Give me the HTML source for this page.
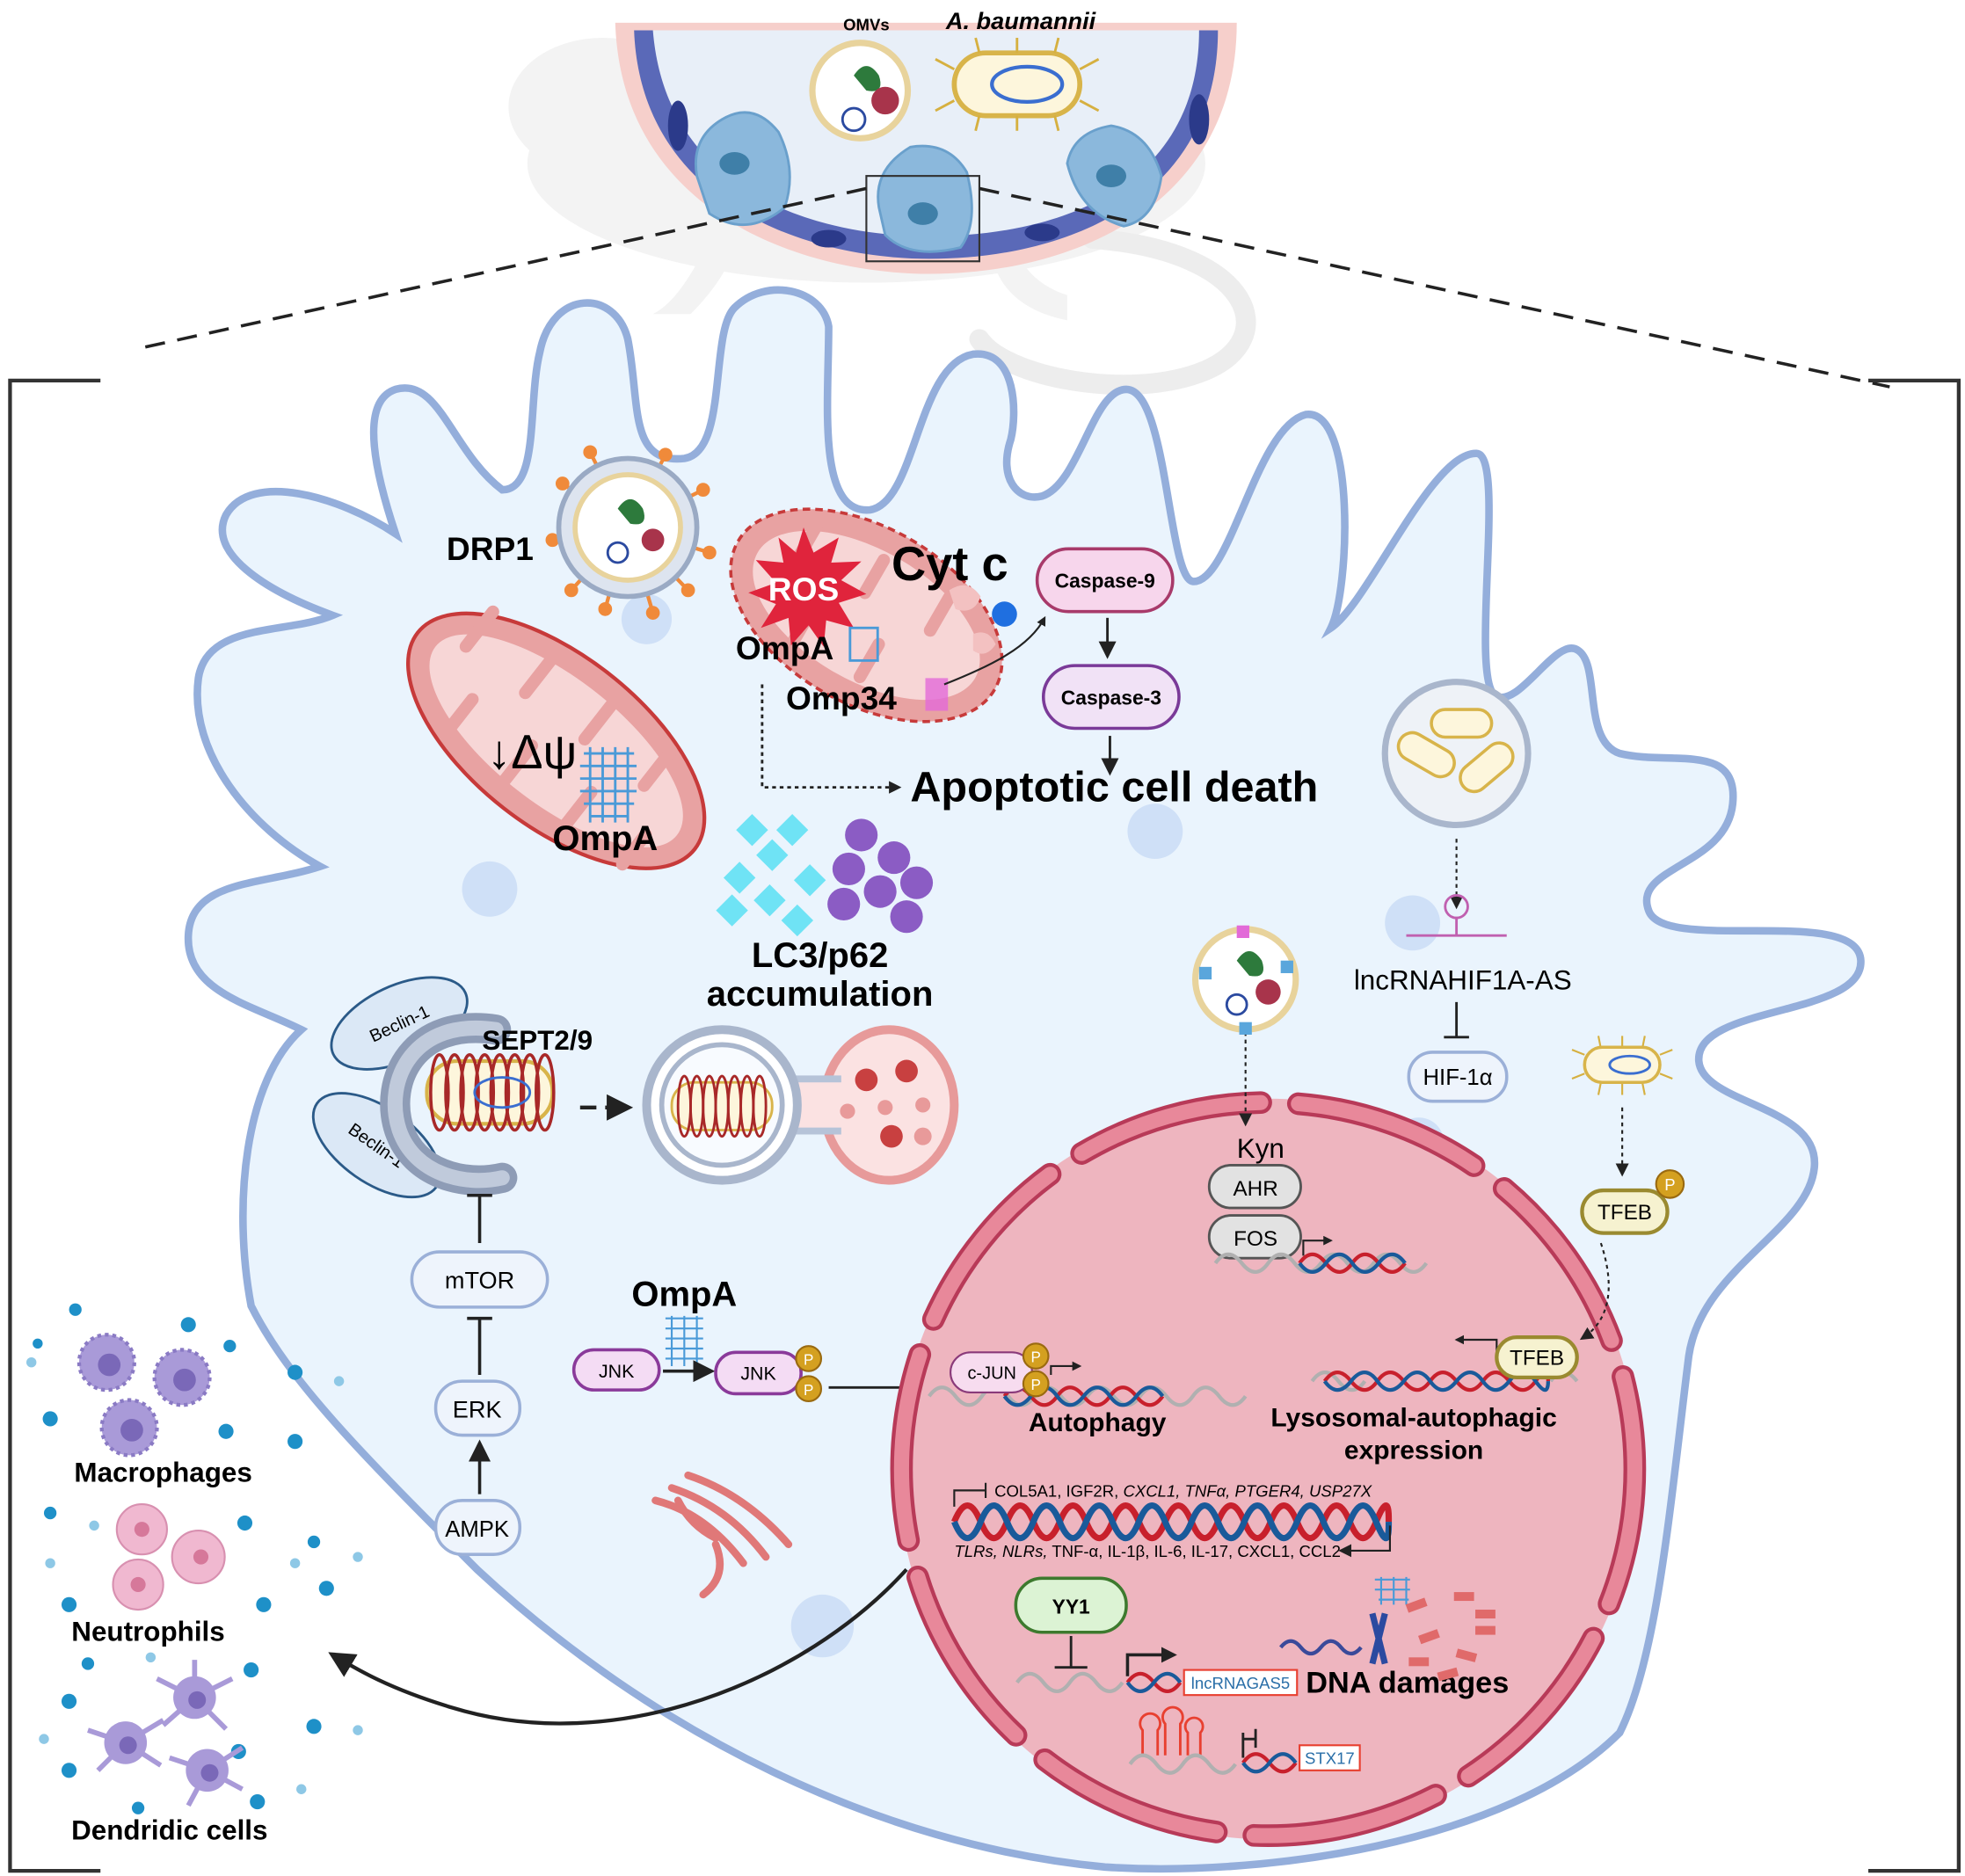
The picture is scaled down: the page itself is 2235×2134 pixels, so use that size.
<!DOCTYPE html>
<html><head><meta charset="utf-8"><style>
html,body{margin:0;padding:0;background:#fff}
svg{display:block}
text{font-family:"Liberation Sans",sans-serif}
.b{font-weight:bold}
</style></head><body>
<svg width="2235" height="2134" viewBox="0 0 1565 1494" xmlns="http://www.w3.org/2000/svg">
<defs>
<marker id="ah" viewBox="0 0 10 10" refX="8" refY="5" markerWidth="5" markerHeight="5" orient="auto"><path d="M0 0L10 5L0 10z" fill="#222"/></marker>
<marker id="ahs" viewBox="0 0 10 10" refX="8" refY="5" markerWidth="7" markerHeight="7" orient="auto"><path d="M0 0L10 5L0 10z" fill="#222"/></marker>
</defs>
<!-- mouse silhouette -->
<g fill="#f3f3f3">
<ellipse cx="690" cy="130" rx="270" ry="95"/>
<ellipse cx="480" cy="85" rx="75" ry="55"/>
<ellipse cx="560" cy="60" rx="35" ry="40"/>
<path d="M560 200 q-20 40 -40 50 l30 0 q20 -20 30 -40z"/>
<path d="M790 205 q10 40 60 50 l0 -20 q-30 -10 -40 -35z"/>
</g>
<path d="M870 190 C1000 200 1020 270 960 295 C900 320 800 300 780 270" fill="none" stroke="#ededed" stroke-width="16" stroke-linecap="round"/>
<!-- bowl -->
<path d="M490 18 C495 170 640 218 740 218 C860 218 985 160 985 18 Z" fill="#f6cfcb"/>
<path d="M505 24 C510 160 640 206 740 206 C855 206 970 155 970 24 Z" fill="#5a69b8"/>
<path d="M520 24 C530 150 645 188 740 188 C850 188 955 145 955 24 Z" fill="#e8eff8"/>
<ellipse cx="540" cy="100" rx="8" ry="20" fill="#2b3a8a"/><ellipse cx="955" cy="95" rx="8" ry="20" fill="#2b3a8a"/>
<ellipse cx="660" cy="190" rx="14" ry="7" fill="#2b3a8a"/><ellipse cx="830" cy="185" rx="14" ry="7" fill="#2b3a8a"/>
<g fill="#8bb8dc" stroke="#6aa0cc" stroke-width="2">
<path d="M555 140 q-5 -30 20 -45 q25 -15 45 10 q15 30 5 60 q-30 25 -60 5z"/>
<path d="M700 165 q-5 -30 25 -48 q30 -5 45 20 q10 40 -5 60 q-40 10 -60 -10z"/>
<path d="M850 130 q5 -25 35 -30 q30 5 40 40 q-5 35 -30 40 q-35 -10 -45 -50z"/>
</g>
<ellipse cx="585" cy="130" rx="12" ry="9" fill="#3f7fa8"/><ellipse cx="735" cy="170" rx="12" ry="9" fill="#3f7fa8"/><ellipse cx="885" cy="140" rx="12" ry="9" fill="#3f7fa8"/>
<circle cx="685" cy="72" r="38" fill="#fff" stroke="#e8d39c" stroke-width="5"/>
<path d="M680 60 q10 -15 20 0 q5 15 -10 12z" fill="#2d7a3c"/><circle cx="705" cy="80" r="11" fill="#a8344b"/><circle cx="680" cy="95" r="9" fill="none" stroke="#2b4aa0" stroke-width="2"/>
<rect x="760" y="42" width="100" height="50" rx="25" fill="#fdf6dc" stroke="#d8b44a" stroke-width="4"/>
<ellipse cx="818" cy="67" rx="28" ry="14" fill="none" stroke="#3a6ed0" stroke-width="3"/>
<g stroke="#d6b040" stroke-width="2"><path d="M760 55 l-15 -8 M760 80 l-15 8 M860 55 l15 -8 M860 80 l15 8 M780 42 l-3 -12 M810 42 l0 -12 M840 42 l3 -12 M780 92 l-3 12 M810 92 l0 12 M840 92 l3 12"/></g>
<text x="690" y="24" font-size="13" class="b" text-anchor="middle">OMVs</text>
<text x="813" y="23" font-size="19" class="b" font-style="italic" text-anchor="middle">A. baumannii</text>
<rect x="690" y="140" width="90" height="68" fill="none" stroke="#333" stroke-width="1.5"/>
<path d="M690 150 L108 278" stroke="#222" stroke-width="2.5" stroke-dasharray="16 10" fill="none"/>
<path d="M780 150 L1505 308" stroke="#222" stroke-width="2.5" stroke-dasharray="16 10" fill="none"/>
<!-- brackets -->
<path d="M80 303 H8 V1490 H80" fill="none" stroke="#333" stroke-width="3"/>
<path d="M1488 303 H1560 V1490 H1488" fill="none" stroke="#333" stroke-width="3"/>
<!-- cell -->
<path d="M880 1487 C700 1470 520 1380 380 1250 C290 1160 230 1100 200 1040 C185 960 195 860 240 820 C200 800 148 790 150 745 C152 700 210 705 255 690 C200 660 150 600 158 540 C165 495 230 505 265 490 C210 470 165 440 180 410 C200 375 270 395 315 425 C300 380 285 320 315 310 C350 300 360 360 400 390 C430 390 420 320 430 280 C440 230 490 230 500 270 C510 320 500 370 545 365 C580 360 565 265 585 245 C610 220 655 230 660 260 C660 320 650 410 693 406 C730 400 730 290 775 282 C810 278 810 330 805 350 C795 380 810 400 830 395 C860 385 870 310 897 310 C930 310 930 460 950 463 C980 465 1000 340 1040 330 C1080 325 1075 470 1060 500 C1090 480 1140 360 1176 361 C1200 362 1170 540 1191 554 C1210 565 1240 505 1257 518 C1275 530 1260 590 1290 600 C1330 610 1385 590 1380 640 C1375 690 1300 690 1313 725 C1325 760 1480 720 1482 765 C1484 810 1350 800 1353 845 C1356 880 1450 880 1445 930 C1440 980 1355 1010 1345 1080 C1330 1200 1320 1320 1290 1380 C1200 1470 1000 1495 880 1487 Z" fill="#eaf4fd" stroke="#94aedb" stroke-width="6"/>
<g fill="#cfe0f7"><circle cx="515" cy="493" r="20"/><circle cx="390" cy="708" r="22"/><circle cx="920" cy="662" r="22"/><circle cx="1125" cy="735" r="22"/><circle cx="655" cy="1295" r="25"/><circle cx="1130" cy="910" r="20"/><circle cx="515" cy="610" r="20"/></g>
<!-- DRP1 OMV -->
<g stroke="#f08a3a" stroke-width="3" fill="#f08a3a">
<path d="M500 420 L470 360 M500 420 L530 362 M500 420 L448 385 M500 420 L560 390 M500 420 L440 430 M500 420 L565 440 M500 420 L455 470 M500 420 L548 470 M500 420 L482 485 M500 420 L520 488"/>
<circle cx="470" cy="360" r="4"/><circle cx="530" cy="362" r="4"/><circle cx="448" cy="385" r="4"/><circle cx="560" cy="390" r="4"/><circle cx="440" cy="430" r="4"/><circle cx="565" cy="440" r="4"/><circle cx="455" cy="470" r="4"/><circle cx="548" cy="470" r="4"/><circle cx="482" cy="485" r="4"/><circle cx="520" cy="488" r="4"/>
</g>
<circle cx="500" cy="420" r="55" fill="#dde4ef" stroke="#9aaac4" stroke-width="4"/>
<circle cx="500" cy="420" r="42" fill="#fff" stroke="#e8d39c" stroke-width="4"/>
<path d="M492 405 q10 -15 20 0 q5 15 -10 12z" fill="#2d7a3c"/><circle cx="520" cy="430" r="9" fill="#a8344b"/><circle cx="492" cy="440" r="8" fill="none" stroke="#2b4aa0" stroke-width="2"/>
<text x="425" y="446" font-size="26" class="b" text-anchor="end">DRP1</text>
<!-- mito 1 -->
<g transform="rotate(38 443 590)">
<ellipse cx="443" cy="590" rx="140" ry="68" fill="#e8a2a2" stroke="#c73a3a" stroke-width="3"/>
<ellipse cx="443" cy="590" rx="122" ry="50" fill="#f7d6d6"/>
<g stroke="#e8a2a2" stroke-width="10" stroke-linecap="round"><path d="M340 540 v35 M370 640 v-35 M400 540 v35 M430 640 v-35 M460 540 v35 M490 640 v-35 M520 540 v35 M545 635 v-30"/></g>
</g>
<text x="388" y="612" font-size="38" font-family="Liberation Serif">↓Δψ</text>
<g stroke="#4a9ad8" stroke-width="2" fill="none"><path d="M465 600 l40 0 M462 610 l45 0 M462 620 l45 0 M462 630 l45 0 M465 640 l40 0 M470 650 l30 0 M470 595 v60 M480 595 v60 M490 595 v60 M500 595 v60"/></g>
<text x="482" y="677" font-size="28" class="b" text-anchor="middle">OmpA</text>
<!-- mito 2 -->
<g transform="rotate(30 690 490)">
<ellipse cx="690" cy="490" rx="118" ry="70" fill="#e8a2a2" stroke="#c73a3a" stroke-width="2.5" stroke-dasharray="6 4"/>
<ellipse cx="690" cy="490" rx="100" ry="52" fill="#f7d6d6"/>
<g stroke="#e8a2a2" stroke-width="10" stroke-linecap="round"><path d="M620 445 v30 M650 535 v-30 M680 445 v30 M710 535 v-30 M740 445 v30"/></g>
</g>
<path d="M756 470 q15 -10 25 5 q-5 15 -20 10z M775 505 q12 -5 18 8 q-8 12 -18 5z" fill="#f3c1c1"/>
<polygon points="640,420 648,440 668,428 662,448 686,447 670,462 690,473 668,480 680,500 658,494 656,515 644,498 630,514 628,492 606,500 618,481 596,472 618,464 602,446 624,448 620,428 634,440" fill="#e0243c"/>
<text x="640" y="478" font-size="26" class="b" fill="#fff" text-anchor="middle">ROS</text>
<text x="586" y="525" font-size="26" class="b">OmpA</text>
<rect x="677" y="500" width="22" height="26" fill="none" stroke="#4a9ad8" stroke-width="2"/>
<text x="626" y="565" font-size="26" class="b">Omp34</text>
<rect x="737" y="540" width="18" height="26" fill="#e26ad8" opacity="0.8"/>
<circle cx="800" cy="489" r="10" fill="#1f6fe0"/>
<text x="710" y="462" font-size="38" class="b">Cyt c</text>
<path d="M752 545 C790 530 820 515 832 492" fill="none" stroke="#222" stroke-width="1.5" marker-end="url(#ah)"/>
<path d="M607 545 V627 H716" fill="none" stroke="#222" stroke-width="2" stroke-dasharray="3 3" marker-end="url(#ah)"/>
<!-- caspases -->
<rect x="826" y="437" width="108" height="50" rx="25" fill="#f7d6ec" stroke="#a83a6a" stroke-width="2.5"/>
<text x="880" y="468" font-size="16" class="b" text-anchor="middle">Caspase-9</text>
<rect x="831" y="530" width="108" height="50" rx="25" fill="#f1e2f6" stroke="#7a3a98" stroke-width="2.5"/>
<text x="885" y="561" font-size="16" class="b" text-anchor="middle">Caspase-3</text>
<path d="M882 492 V522" stroke="#222" stroke-width="2" marker-end="url(#ahs)"/>
<path d="M884 586 V615" stroke="#222" stroke-width="2" marker-end="url(#ahs)"/>
<text x="725" y="638" font-size="34" class="b">Apoptotic cell death</text>
<!-- LC3/p62 -->
<g fill="#6fe3f5"><rect x="590" y="652" width="18" height="18" transform="rotate(45 599 661)"/><rect x="622" y="652" width="18" height="18" transform="rotate(45 631 661)"/><rect x="606" y="672" width="18" height="18" transform="rotate(45 615 681)"/><rect x="580" y="690" width="18" height="18" transform="rotate(45 589 699)"/><rect x="636" y="692" width="18" height="18" transform="rotate(45 645 701)"/><rect x="604" y="708" width="18" height="18" transform="rotate(45 613 717)"/><rect x="574" y="716" width="18" height="18" transform="rotate(45 583 725)"/><rect x="626" y="724" width="18" height="18" transform="rotate(45 635 733)"/></g>
<g fill="#8b5cc4"><circle cx="686" cy="665" r="13"/><circle cx="712" cy="683" r="13"/><circle cx="676" cy="692" r="13"/><circle cx="730" cy="703" r="13"/><circle cx="701" cy="710" r="13"/><circle cx="672" cy="720" r="13"/><circle cx="722" cy="730" r="13"/></g>
<text x="653" y="770" font-size="28" class="b" text-anchor="middle">LC3/p62</text>
<text x="653" y="801" font-size="28" class="b" text-anchor="middle">accumulation</text>
<!-- phagophore -->
<ellipse cx="318" cy="815" rx="58" ry="30" transform="rotate(-25 318 815)" fill="#dbe8f6" stroke="#2b5a88" stroke-width="2"/>
<text x="318" y="820" font-size="14" text-anchor="middle" transform="rotate(-25 318 815)">Beclin-1</text>
<ellipse cx="300" cy="912" rx="58" ry="30" transform="rotate(35 300 912)" fill="#dbe8f6" stroke="#2b5a88" stroke-width="2"/>
<text x="300" y="917" font-size="14" text-anchor="middle" transform="rotate(35 300 912)">Beclin-1</text>
<path d="M395 820 C330 810 305 860 318 900 C330 935 370 945 400 938" fill="none" stroke="#8e9cb6" stroke-width="24" stroke-linecap="round"/>
<path d="M395 820 C330 810 305 860 318 900 C330 935 370 945 400 938" fill="none" stroke="#c0cadb" stroke-width="12" stroke-linecap="round"/>
<rect x="340" y="845" width="100" height="50" rx="24" fill="#fdf6dc" stroke="#d8b44a" stroke-width="3"/>
<g fill="none" stroke="#a82828" stroke-width="2.5"><ellipse cx="350" cy="870" rx="7" ry="30"/><ellipse cx="362" cy="870" rx="7" ry="30"/><ellipse cx="374" cy="870" rx="7" ry="30"/><ellipse cx="386" cy="870" rx="7" ry="30"/><ellipse cx="398" cy="870" rx="7" ry="30"/><ellipse cx="410" cy="870" rx="7" ry="30"/><ellipse cx="422" cy="870" rx="7" ry="30"/><ellipse cx="434" cy="870" rx="7" ry="30"/></g>
<ellipse cx="400" cy="870" rx="22" ry="12" fill="none" stroke="#3a6ed0" stroke-width="2"/>
<text x="384" y="836" font-size="22" class="b">SEPT2/9</text>
<path d="M462 882 H475 M482 882 H500" stroke="#222" stroke-width="3" marker-end="url(#ahs)"/>
<!-- autolysosome -->
<ellipse cx="708" cy="880" rx="52" ry="60" fill="#fbe2e2" stroke="#e79a9a" stroke-width="7"/>
<path d="M620 860 H670 M620 900 H670" stroke="#b6c3d8" stroke-width="7"/>
<rect x="620" y="862" width="60" height="36" fill="#fbe2e2"/>
<circle cx="575" cy="880" r="60" fill="#fff" stroke="#a9b6cc" stroke-width="7"/>
<circle cx="575" cy="880" r="48" fill="#f8fbff" stroke="#a9b6cc" stroke-width="4"/>
<rect x="535" y="862" width="80" height="38" rx="18" fill="#fdf6dc" stroke="#d8b44a" stroke-width="2"/>
<g fill="none" stroke="#a82828" stroke-width="2"><ellipse cx="545" cy="881" rx="5" ry="24"/><ellipse cx="555" cy="881" rx="5" ry="24"/><ellipse cx="565" cy="881" rx="5" ry="24"/><ellipse cx="575" cy="881" rx="5" ry="24"/><ellipse cx="585" cy="881" rx="5" ry="24"/><ellipse cx="595" cy="881" rx="5" ry="24"/><ellipse cx="605" cy="881" rx="5" ry="24"/></g>
<g fill="#c84040"><circle cx="690" cy="860" r="9"/><circle cx="722" cy="853" r="9"/><circle cx="710" cy="905" r="9"/></g>
<g fill="#e89a9a"><circle cx="675" cy="885" r="6"/><circle cx="705" cy="882" r="6"/><circle cx="735" cy="880" r="6"/><circle cx="735" cy="905" r="7"/></g>
<!-- mTOR chain -->
<path d="M382 990 V952 M372 952 H392" stroke="#222" stroke-width="2.5"/>
<rect x="328" y="997" width="108" height="44" rx="22" fill="#eef4fc" stroke="#9bb0d8" stroke-width="2.5"/>
<text x="382" y="1026" font-size="19" text-anchor="middle">mTOR</text>
<path d="M382 1095 V1050 M372 1050 H392" stroke="#222" stroke-width="2.5"/>
<rect x="347" y="1100" width="67" height="43" rx="21" fill="#eef4fc" stroke="#9bb0d8" stroke-width="2.5"/>
<text x="380" y="1129" font-size="19" text-anchor="middle">ERK</text>
<path d="M382 1190 V1150" stroke="#222" stroke-width="2.5" marker-end="url(#ahs)"/>
<rect x="347" y="1195" width="67" height="43" rx="21" fill="#eef4fc" stroke="#9bb0d8" stroke-width="2.5"/>
<text x="380" y="1224" font-size="18" text-anchor="middle">AMPK</text>
<!-- JNK -->
<text x="545" y="1040" font-size="28" class="b" text-anchor="middle">OmpA</text>
<g stroke="#4a9ad8" stroke-width="1.5" fill="none"><path d="M530 1050 h30 M530 1058 h30 M530 1066 h30 M530 1074 h30 M530 1082 h30 M535 1048 v40 M545 1048 v40 M555 1048 v40"/></g>
<rect x="457" y="1075" width="68" height="32" rx="16" fill="#f4dcf4" stroke="#8a3a9a" stroke-width="2.5"/>
<text x="491" y="1097" font-size="15" text-anchor="middle">JNK</text>
<path d="M528 1092 H566" stroke="#222" stroke-width="2.5" marker-end="url(#ahs)"/>
<rect x="570" y="1077" width="68" height="33" rx="16" fill="#f4dcf4" stroke="#8a3a9a" stroke-width="2.5"/>
<text x="604" y="1099" font-size="15" text-anchor="middle">JNK</text>
<circle cx="644" cy="1082" r="10" fill="#d4a020" stroke="#9a6a10" stroke-width="1.5"/><text x="644" y="1087" font-size="12" text-anchor="middle" fill="#fff">P</text>
<circle cx="644" cy="1106" r="10" fill="#d4a020" stroke="#9a6a10" stroke-width="1.5"/><text x="644" y="1111" font-size="12" text-anchor="middle" fill="#fff">P</text>
<path d="M660 1105 H737" stroke="#222" stroke-width="2" marker-end="url(#ahs)"/>
<!-- golgi -->
<g fill="none" stroke="#e07878" stroke-width="6" stroke-linecap="round"><path d="M522 1195 q40 10 70 50"/><path d="M535 1185 q45 15 75 55"/><path d="M548 1175 q45 15 80 55"/><path d="M560 1270 q20 -15 10 -40"/><path d="M540 1195 q10 20 30 30"/></g>
<!-- immune cells -->
<g fill="#1e90c8"><circle cx="60" cy="1043" r="5"/><circle cx="150" cy="1055" r="6"/><circle cx="183" cy="1072" r="5"/><circle cx="40" cy="1130" r="6"/><circle cx="235" cy="1093" r="6"/><circle cx="180" cy="1140" r="6"/><circle cx="235" cy="1148" r="6"/><circle cx="40" cy="1205" r="5"/><circle cx="195" cy="1213" r="6"/><circle cx="250" cy="1228" r="5"/><circle cx="55" cy="1278" r="6"/><circle cx="210" cy="1278" r="6"/><circle cx="260" cy="1265" r="6"/><circle cx="70" cy="1325" r="5"/><circle cx="55" cy="1355" r="6"/><circle cx="200" cy="1330" r="6"/><circle cx="250" cy="1375" r="6"/><circle cx="190" cy="1395" r="6"/><circle cx="55" cy="1410" r="6"/><circle cx="205" cy="1435" r="6"/><circle cx="110" cy="1440" r="5"/><circle cx="30" cy="1070" r="4"/></g>
<g fill="#8ec8e6"><circle cx="25" cy="1085" r="4"/><circle cx="110" cy="1150" r="4"/><circle cx="270" cy="1100" r="4"/><circle cx="75" cy="1215" r="4"/><circle cx="235" cy="1245" r="4"/><circle cx="40" cy="1245" r="4"/><circle cx="285" cy="1240" r="4"/><circle cx="120" cy="1320" r="4"/><circle cx="285" cy="1378" r="4"/><circle cx="35" cy="1385" r="4"/><circle cx="240" cy="1425" r="4"/></g>
<g fill="#a99ad8" stroke="#8a7ac4" stroke-width="3" stroke-dasharray="3 3"><circle cx="85" cy="1085" r="22"/><circle cx="145" cy="1097" r="22"/><circle cx="103" cy="1137" r="22"/></g>
<g fill="#7a68b8"><circle cx="87" cy="1087" r="9"/><circle cx="147" cy="1099" r="9"/><circle cx="105" cy="1139" r="9"/></g>
<g fill="#f0b8d0" stroke="#d890b0" stroke-width="1.5"><circle cx="113" cy="1218" r="20"/><circle cx="158" cy="1240" r="21"/><circle cx="110" cy="1262" r="20"/></g>
<g fill="#d6789a"><circle cx="113" cy="1218" r="6"/><circle cx="160" cy="1240" r="6"/><circle cx="110" cy="1262" r="6"/></g>
<g stroke="#a99ad8" stroke-width="4"><path d="M155 1352 l-30 -15 m30 15 l30 -15 m-30 15 l-25 22 m25 -22 l25 25 m-25 -25 l0 -30 M100 1388 l-30 -10 m30 10 l30 -18 m-30 18 l-22 22 m22 -22 l28 18 M165 1410 l-30 -10 m30 10 l28 -18 m-28 18 l-15 28 m15 -28 l28 15"/></g>
<g fill="#a99ad8"><circle cx="155" cy="1352" r="17"/><circle cx="100" cy="1388" r="17"/><circle cx="165" cy="1410" r="17"/></g>
<g fill="#7a68b8"><circle cx="157" cy="1354" r="7"/><circle cx="102" cy="1390" r="7"/><circle cx="167" cy="1412" r="7"/></g>
<text x="130" y="1180" font-size="22" class="b" text-anchor="middle">Macrophages</text>
<text x="118" y="1307" font-size="22" class="b" text-anchor="middle">Neutrophils</text>
<text x="135" y="1465" font-size="22" class="b" text-anchor="middle">Dendridic cells</text>
<!-- nucleus -->
<circle cx="1010" cy="1170" r="295" fill="#eeb5bf"/>
<circle cx="1010" cy="1170" r="292" fill="none" stroke="#b83a58" stroke-width="18" stroke-dasharray="150 30" stroke-dashoffset="40" stroke-linecap="round"/>
<circle cx="1010" cy="1170" r="292" fill="none" stroke="#e8889a" stroke-width="12" stroke-dasharray="150 30" stroke-dashoffset="40" stroke-linecap="round"/>
<!-- curved output arrow -->
<path d="M722 1250 C640 1340 490 1400 360 1360 C310 1345 285 1330 265 1318" fill="none" stroke="#222" stroke-width="3" marker-end="url(#ahs)"/>
<!-- Kyn/AHR/FOS -->
<text x="1004" y="922" font-size="22" text-anchor="middle">Kyn</text>
<rect x="963" y="928" width="73" height="34" rx="17" fill="#e2e2e2" stroke="#555" stroke-width="2"/>
<text x="1000" y="952" font-size="17" text-anchor="middle">AHR</text>
<rect x="963" y="968" width="73" height="34" rx="17" fill="#e2e2e2" stroke="#555" stroke-width="2"/>
<text x="1000" y="992" font-size="17" text-anchor="middle">FOS</text>
<path d="M1038 1000 V988 H1060" fill="none" stroke="#222" stroke-width="1.5" marker-end="url(#ah)"/>
<path d="M968 1006 q10 -14 21 0 t21 0 t21 0 t21 0 t21 0 t21 0 t21 0 t21 0" fill="none" stroke="#b0b0b0" stroke-width="3"/>
<path d="M1035 1006 q10 -14 21 0 t21 0 t21 0 t21 0" fill="none" stroke="#c8202c" stroke-width="3"/>
<path d="M1035 1006 q10 14 21 0 t21 0 t21 0 t21 0" fill="none" stroke="#1a5a9a" stroke-width="3"/>
<path d="M992 822 V895" stroke="#222" stroke-width="1.5" stroke-dasharray="3 3" marker-end="url(#ahs)"/>
<!-- c-JUN -->
<path d="M740 1112 q10 -14 21 0 t21 0 t21 0 t21 0 t21 0 t21 0 t21 0 t21 0 t21 0 t21 0 t21 0 t21 0" fill="none" stroke="#b0b0b0" stroke-width="3"/>
<path d="M800 1112 q10 -14 21 0 t21 0 t21 0 t21 0 t21 0 t21 0" fill="none" stroke="#c8202c" stroke-width="3"/>
<path d="M800 1112 q10 14 21 0 t21 0 t21 0 t21 0 t21 0 t21 0" fill="none" stroke="#1a5a9a" stroke-width="3"/>
<rect x="757" y="1077" width="65" height="32" rx="16" fill="#f7dcef" stroke="#8a3a7a" stroke-width="1.5"/>
<text x="790" y="1098" font-size="14" text-anchor="middle">c-JUN</text>
<circle cx="825" cy="1080" r="10" fill="#d4a020" stroke="#9a6a10" stroke-width="1.5"/><text x="825" y="1085" font-size="12" text-anchor="middle" fill="#fff">P</text>
<circle cx="825" cy="1102" r="10" fill="#d4a020" stroke="#9a6a10" stroke-width="1.5"/><text x="825" y="1107" font-size="12" text-anchor="middle" fill="#fff">P</text>
<path d="M837 1095 V1088 H860" fill="none" stroke="#222" stroke-width="1.5" marker-end="url(#ah)"/>
<text x="874" y="1140" font-size="21" class="b" text-anchor="middle">Autophagy</text>
<!-- TFEB nucleus -->
<path d="M1045 1100 q10 -14 21 0 t21 0 M1235 1100 q10 -14 21 0" fill="none" stroke="#b0b0b0" stroke-width="3"/>
<path d="M1055 1100 q10 -14 21 0 t21 0 t21 0 t21 0 t21 0 t21 0 t21 0 t21 0 t10 0" fill="none" stroke="#c8202c" stroke-width="3"/>
<path d="M1055 1100 q10 14 21 0 t21 0 t21 0 t21 0 t21 0 t21 0 t21 0 t21 0 t10 0" fill="none" stroke="#1a5a9a" stroke-width="3"/>
<path d="M1192 1085 V1067 H1160" fill="none" stroke="#222" stroke-width="1.5" marker-end="url(#ah)"/>
<rect x="1192" y="1065" width="64" height="32" rx="16" fill="#f6f2d0" stroke="#9a8a30" stroke-width="3"/>
<text x="1224" y="1087" font-size="17" text-anchor="middle">TFEB</text>
<text x="1126" y="1136" font-size="21" class="b" text-anchor="middle">Lysosomal-autophagic</text>
<text x="1126" y="1162" font-size="21" class="b" text-anchor="middle">expression</text>
<!-- gene helix -->
<path d="M760 1200 V1187 H785 M785 1181 V1193" fill="none" stroke="#222" stroke-width="1.5"/>
<text x="792" y="1192" font-size="13">COL5A1, IGF2R, <tspan font-style="italic">CXCL1, TNFα, PTGER4, USP27X</tspan></text>
<path d="M760 1212 q10.5 -26 21 0 t21 0 t21 0 t21 0 t21 0 t21 0 t21 0 t21 0 t21 0 t21 0 t21 0 t21 0 t21 0 t21 0 t21 0 t21 0 t10 0" fill="none" stroke="#c8202c" stroke-width="5"/>
<path d="M760 1212 q10.5 26 21 0 t21 0 t21 0 t21 0 t21 0 t21 0 t21 0 t21 0 t21 0 t21 0 t21 0 t21 0 t21 0 t21 0 t21 0 t21 0 t10 0" fill="none" stroke="#1a5a9a" stroke-width="5"/>
<text x="760" y="1240" font-size="13"><tspan font-style="italic">TLRs, NLRs,</tspan> TNF-α, IL-1β, IL-6, IL-17, CXCL1, CCL2</text>
<path d="M1107 1215 V1235 H1068" fill="none" stroke="#222" stroke-width="1.5" marker-end="url(#ahs)"/>
<!-- YY1 -->
<rect x="809" y="1257" width="88" height="43" rx="21" fill="#dcf3d4" stroke="#3d7a2e" stroke-width="2.5"/>
<text x="853" y="1285" font-size="16" class="b" text-anchor="middle">YY1</text>
<path d="M853 1303 V1328 M840 1328 H866" stroke="#222" stroke-width="2"/>
<path d="M810 1340 q10 -14 21 0 t21 0 t21 0 t21 0" fill="none" stroke="#b0b0b0" stroke-width="3"/>
<path d="M898 1340 q10 -14 21 0 t21 0" fill="none" stroke="#c8202c" stroke-width="3"/>
<path d="M898 1340 q10 14 21 0 t21 0" fill="none" stroke="#1a5a9a" stroke-width="3"/>
<path d="M898 1335 V1318 H935" fill="none" stroke="#222" stroke-width="2.5" marker-end="url(#ah)"/>
<rect x="943" y="1330" width="90" height="20" fill="#fff" stroke="#e84030" stroke-width="1.5"/>
<text x="988" y="1345" font-size="13" fill="#2a6fa8" text-anchor="middle">lncRNAGAS5</text>
<text x="1040" y="1348" font-size="24" class="b">DNA damages</text>
<path d="M1020 1312 q8 -10 16 0 t16 0 t16 0 t16 0" fill="none" stroke="#3a4a9a" stroke-width="3"/>
<path d="M1093 1285 l10 40 M1103 1285 l-10 40" stroke="#2b4aa0" stroke-width="5"/>
<g stroke="#4a9ad8" stroke-width="1.5" fill="none"><path d="M1095 1258 h28 M1095 1266 h28 M1098 1274 h24 M1100 1256 v22 M1110 1256 v22 M1120 1256 v22"/></g>
<g fill="#e06a6a"><rect x="1120" y="1275" width="16" height="7" transform="rotate(-20 1128 1278)"/><rect x="1158" y="1268" width="16" height="7"/><rect x="1130" y="1300" width="16" height="7" transform="rotate(-20 1138 1303)"/><rect x="1175" y="1295" width="16" height="7"/><rect x="1122" y="1320" width="16" height="7"/><rect x="1160" y="1315" width="16" height="7" transform="rotate(15 1168 1318)"/><rect x="1145" y="1330" width="16" height="7" transform="rotate(-15 1153 1333)"/><rect x="1175" y="1282" width="16" height="7"/></g>
<!-- STX17 -->
<g fill="none" stroke="#e84030" stroke-width="2"><path d="M910 1398 v-20 a8 8 0 1 1 12 0 v20"/><path d="M928 1398 v-25 a8 8 0 1 1 12 0 v25"/><path d="M946 1398 v-18 a7 7 0 1 1 10 0 v18"/></g>
<path d="M900 1405 q10 -14 21 0 t21 0 t21 0 t21 0" fill="none" stroke="#b0b0b0" stroke-width="3"/>
<path d="M990 1400 V1380 M990 1385 H1000 M1000 1377 V1392" fill="none" stroke="#222" stroke-width="2"/>
<path d="M990 1404 q10 -14 21 0 t21 0" fill="none" stroke="#c8202c" stroke-width="3"/>
<path d="M990 1404 q10 14 21 0 t21 0" fill="none" stroke="#1a5a9a" stroke-width="3"/>
<rect x="1035" y="1390" width="48" height="20" fill="#fff" stroke="#e84030" stroke-width="1.5"/>
<text x="1059" y="1405" font-size="13" fill="#2a6fa8" text-anchor="middle">STX17</text>
<!-- right side -->
<circle cx="992" cy="780" r="40" fill="#fff" stroke="#e8d39c" stroke-width="5"/>
<path d="M985 765 q10 -15 20 0 q5 15 -10 12z" fill="#2d7a3c"/><circle cx="1010" cy="790" r="10" fill="#a8344b"/><circle cx="985" cy="800" r="8" fill="none" stroke="#2b4aa0" stroke-width="2"/>
<rect x="955" y="770" width="10" height="10" fill="#5aa6dc"/><rect x="1020" y="765" width="10" height="10" fill="#5aa6dc"/><rect x="987" y="814" width="10" height="10" fill="#5aa6dc"/><rect x="985" y="737" width="10" height="10" fill="#e26ad8"/>
<circle cx="1160" cy="600" r="57" fill="#eef2f7" stroke="#a9b6cc" stroke-width="5"/>
<g fill="#fdf6dc" stroke="#d8b44a" stroke-width="2.5"><rect x="1140" y="565" width="48" height="22" rx="11"/><rect x="1112" y="590" width="48" height="22" rx="11" transform="rotate(30 1136 601)"/><rect x="1160" y="600" width="48" height="22" rx="11" transform="rotate(-40 1184 611)"/></g>
<path d="M1160 668 V722" stroke="#222" stroke-width="1.5" stroke-dasharray="3 3" marker-end="url(#ahs)"/>
<path d="M1120 745 H1200 M1160 745 V730" stroke="#c060b0" stroke-width="2"/>
<circle cx="1160" cy="722" r="9" fill="none" stroke="#c060b0" stroke-width="2"/>
<text x="1165" y="788" font-size="22" text-anchor="middle">lncRNAHIF1A-AS</text>
<path d="M1160 798 V826 M1150 826 H1170" stroke="#222" stroke-width="2"/>
<rect x="1122" y="838" width="78" height="39" rx="19" fill="#eef4fc" stroke="#9bb0d8" stroke-width="2.5"/>
<text x="1161" y="864" font-size="18" text-anchor="middle">HIF-1α</text>
<g stroke="#d6b040" stroke-width="1.5"><path d="M1262 840 l-10 -4 M1262 855 l-10 4 M1322 840 l10 -4 M1322 855 l10 4 M1275 835 l-2 -10 M1292 835 v-10 M1308 835 l2 -10 M1275 862 l-2 10 M1292 862 v10 M1308 862 l2 10"/></g>
<rect x="1262" y="834" width="60" height="28" rx="14" fill="#fdf6dc" stroke="#d8b44a" stroke-width="2.5"/>
<ellipse cx="1298" cy="848" rx="16" ry="7" fill="none" stroke="#3a6ed0" stroke-width="2"/>
<path d="M1292 882 V935" stroke="#222" stroke-width="1.5" stroke-dasharray="3 3" marker-end="url(#ahs)"/>
<rect x="1260" y="948" width="68" height="34" rx="17" fill="#f6f2d0" stroke="#9a8a30" stroke-width="3"/>
<text x="1294" y="971" font-size="17" text-anchor="middle">TFEB</text>
<circle cx="1330" cy="943" r="11" fill="#d4a020" stroke="#9a6a10" stroke-width="1.5"/><text x="1330" y="948" font-size="13" text-anchor="middle" fill="#fff">P</text>
<path d="M1275 990 C1285 1020 1285 1050 1260 1066" fill="none" stroke="#222" stroke-width="1.5" stroke-dasharray="3 3" marker-end="url(#ahs)"/>
</svg>
</body></html>
